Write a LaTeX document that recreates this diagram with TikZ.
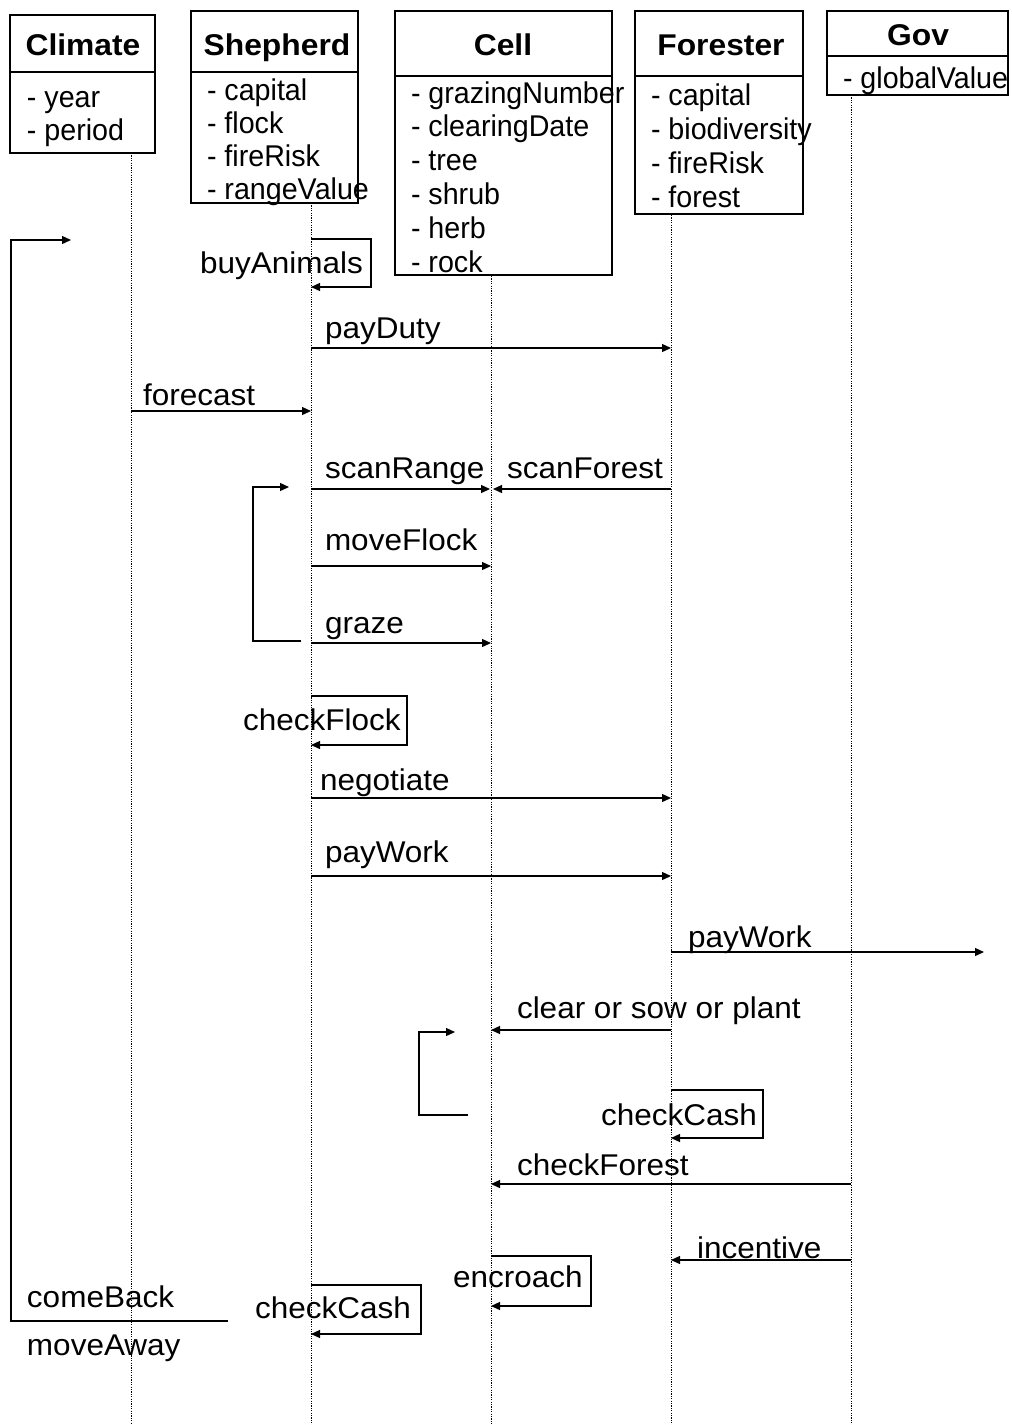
\documentclass[tikz,border=0pt]{standalone}
\usepackage{fontspec}
\setmainfont{Liberation Sans}
\newfontfamily\msgfont[FakeStretch=1.05]{Liberation Sans}
\newfontfamily\attrfont[FakeStretch=0.955]{Liberation Sans}
\newfontfamily\ttlfont[FakeStretch=1.06]{Liberation Sans}
\usetikzlibrary{arrows.meta}
\begin{document}
\begin{tikzpicture}[x=1pt,y=-1pt,
  every node/.style={inner sep=0pt, outer sep=0pt},
  txt/.style={font=\msgfont\fontsize{30}{36}\selectfont, anchor=base west},
  attr/.style={font=\attrfont\fontsize{30}{36}\selectfont, anchor=base west},
  ttl/.style={font=\ttlfont\fontsize{30}{36}\selectfont\bfseries, anchor=base},
  objbox/.style={draw, line width=1.3pt, anchor=north west},
  divider/.style={line width=1.3pt},
  life/.style={line width=0.9pt, dash pattern=on 1.2pt off 1.2pt},
  msg/.style={line width=1.3pt, -{Triangle[length=9pt,width=8pt]}},
  plain/.style={line width=1.3pt}]
\useasboundingbox (0,0) rectangle (1012,1425);
\fill[white] (0,0) rectangle (1012,1425);

% ---------- object boxes ----------
\node[objbox, minimum width=145pt, minimum height=138pt] (climate) at (10,15) {};
\node[objbox, minimum width=167pt, minimum height=192pt] (shepherd) at (191,11) {};
\node[objbox, minimum width=217pt, minimum height=264pt] (cell) at (395,11) {};
\node[objbox, minimum width=168pt, minimum height=203pt] (forester) at (635,11) {};
\node[objbox, minimum width=181pt, minimum height=84pt] (gov) at (827,11) {};

\draw[divider] (climate.north west |- 0,72) -- (climate.north east |- 0,72);
\draw[divider] (shepherd.north west |- 0,72) -- (shepherd.north east |- 0,72);
\draw[divider] (cell.north west |- 0,76) -- (cell.north east |- 0,76);
\draw[divider] (forester.north west |- 0,76) -- (forester.north east |- 0,76);
\draw[divider] (gov.north west |- 0,56) -- (gov.north east |- 0,56);

\node[ttl] (tClimate) at (83,55) {Climate};
\node[ttl] (tShepherd) at (277,55) {Shepherd};
\node[ttl] (tCell) at (503,55) {Cell};
\node[ttl] (tForester) at (721,55) {Forester};
\node[ttl] (tGov) at (918,45) {Gov};

\foreach \t [count=\i] in {year,period}
  \node[attr] (aClimate\i) at (27,{107+33*(\i-1)}) {- \t};
\foreach \t [count=\i] in {capital,flock,fireRisk,rangeValue}
  \node[attr] (aShepherd\i) at (207,{100+33*(\i-1)}) {- \t};
\foreach \t [count=\i] in {grazingNumber,clearingDate,tree,shrub,herb,rock}
  \node[attr] (aCell\i) at (411,{103+33.8*(\i-1)}) {- \t};
\foreach \t [count=\i] in {capital,biodiversity,fireRisk,forest}
  \node[attr] (aForester\i) at (651,{105+34*(\i-1)}) {- \t};
\node[attr] (aGov1) at (843,88) {- globalValue};

% ---------- lifelines ----------
\coordinate (clL) at (131,153);
\coordinate (shL) at (311,203);
\coordinate (ceL) at (491,276);
\coordinate (foL) at (671,215);
\coordinate (goL) at (851,95);
\foreach \c in {clL,shL,ceL,foL,goL}
  \draw[life] (\c) -- (\c |- 0,1425);

% ---------- Climate loop ----------
\coordinate (cLoopTop) at (11,240);
\coordinate (cLoopTip) at (71,240);
\coordinate (cLoopBot) at (11,1321);
\coordinate (cLoopEnd) at (228,1321);
\draw[msg] (cLoopEnd) -- (cLoopBot) -- (cLoopTop) -- (cLoopTip);
\node[txt] (lComeBack) at (27,1307) {comeBack};
\node[txt] (lMoveAway) at (27,1355) {moveAway};

% ---------- buyAnimals ----------
\draw[msg] (shL |- 0,239) -- (371,239) |- (shL |- 0,287);
\node[txt] (lBuy) at (200,273) {buyAnimals};

% ---------- payDuty ----------
\draw[msg] (shL |- 0,348) -- (foL |- 0,348);
\node[txt] (lPayDuty) at (325,338) {payDuty};

% ---------- forecast ----------
\draw[msg] (clL |- 0,411) -- (shL |- 0,411);
\node[txt] (lForecast) at (143,405) {forecast};

% ---------- scanRange / scanForest ----------
\draw[msg] (shL |- 0,489) -- ([xshift=-1pt]ceL |- 0,489);
\node[txt] (lScanRange) at (325,478) {scanRange};
\draw[msg] (foL |- 0,489) -- ([xshift=2pt]ceL |- 0,489);
\node[txt] (lScanForest) at (507,478) {scanForest};

% ---------- moveFlock / graze ----------
\draw[msg] (shL |- 0,566) -- (ceL |- 0,566);
\node[txt] (lMoveFlock) at (325,550) {moveFlock};
\draw[msg] (shL |- 0,643) -- (ceL |- 0,643);
\node[txt] (lGraze) at (325,633) {graze};

% ---------- Shepherd loop ----------
\coordinate (sLoopEnd) at (301,641);
\coordinate (sLoopTip) at (289,487);
\draw[msg] (sLoopEnd) -- (253,641) -- (253,487) -- (sLoopTip);

% ---------- checkFlock ----------
\draw[msg] (shL |- 0,696) -- (407,696) |- (shL |- 0,745);
\node[txt] (lCheckFlock) at (243,730) {checkFlock};

% ---------- negotiate / payWork ----------
\draw[msg] (shL |- 0,798) -- (foL |- 0,798);
\node[txt] (lNegotiate) at (320,790) {negotiate};
\draw[msg] (shL |- 0,876) -- (foL |- 0,876);
\node[txt] (lPayWork) at (325,862) {payWork};

% ---------- payWork (Forester) ----------
\coordinate (pwEnd) at (984,952);
\draw[msg] (foL |- 0,952) -- (pwEnd);
\node[txt] (lPayWork2) at (688,947) {payWork};

% ---------- clear or sow or plant ----------
\draw[msg] (foL |- 0,1030) -- (ceL |- 0,1030);
\node[txt] (lClear) at (517,1018) {clear or sow or plant};

% ---------- Cell loop ----------
\coordinate (ceLoopEnd) at (468,1115);
\coordinate (ceLoopTip) at (455,1032);
\draw[msg] (ceLoopEnd) -- (419,1115) -- (419,1032) -- (ceLoopTip);

% ---------- checkCash (Forester) ----------
\draw[msg] (foL |- 0,1090) -- (763,1090) |- (foL |- 0,1138);
\node[txt] (lCheckCashF) at (601,1125) {checkCash};

% ---------- checkForest ----------
\draw[msg] (goL |- 0,1184) -- (ceL |- 0,1184);
\node[txt] (lCheckForest) at (517,1175) {checkForest};

% ---------- incentive ----------
\draw[msg] (goL |- 0,1260) -- (foL |- 0,1260);
\node[txt] (lIncentive) at (697,1258) {incentive};

% ---------- encroach ----------
\draw[msg] (ceL |- 0,1256) -- (591,1256) |- (ceL |- 0,1306);
\node[txt] (lEncroach) at (453,1287) {encroach};

% ---------- checkCash (Shepherd) ----------
\draw[msg] (shL |- 0,1285) -- (421,1285) |- (shL |- 0,1334);
\node[txt] (lCheckCashS) at (255,1318) {checkCash};

\end{tikzpicture}
\end{document}
